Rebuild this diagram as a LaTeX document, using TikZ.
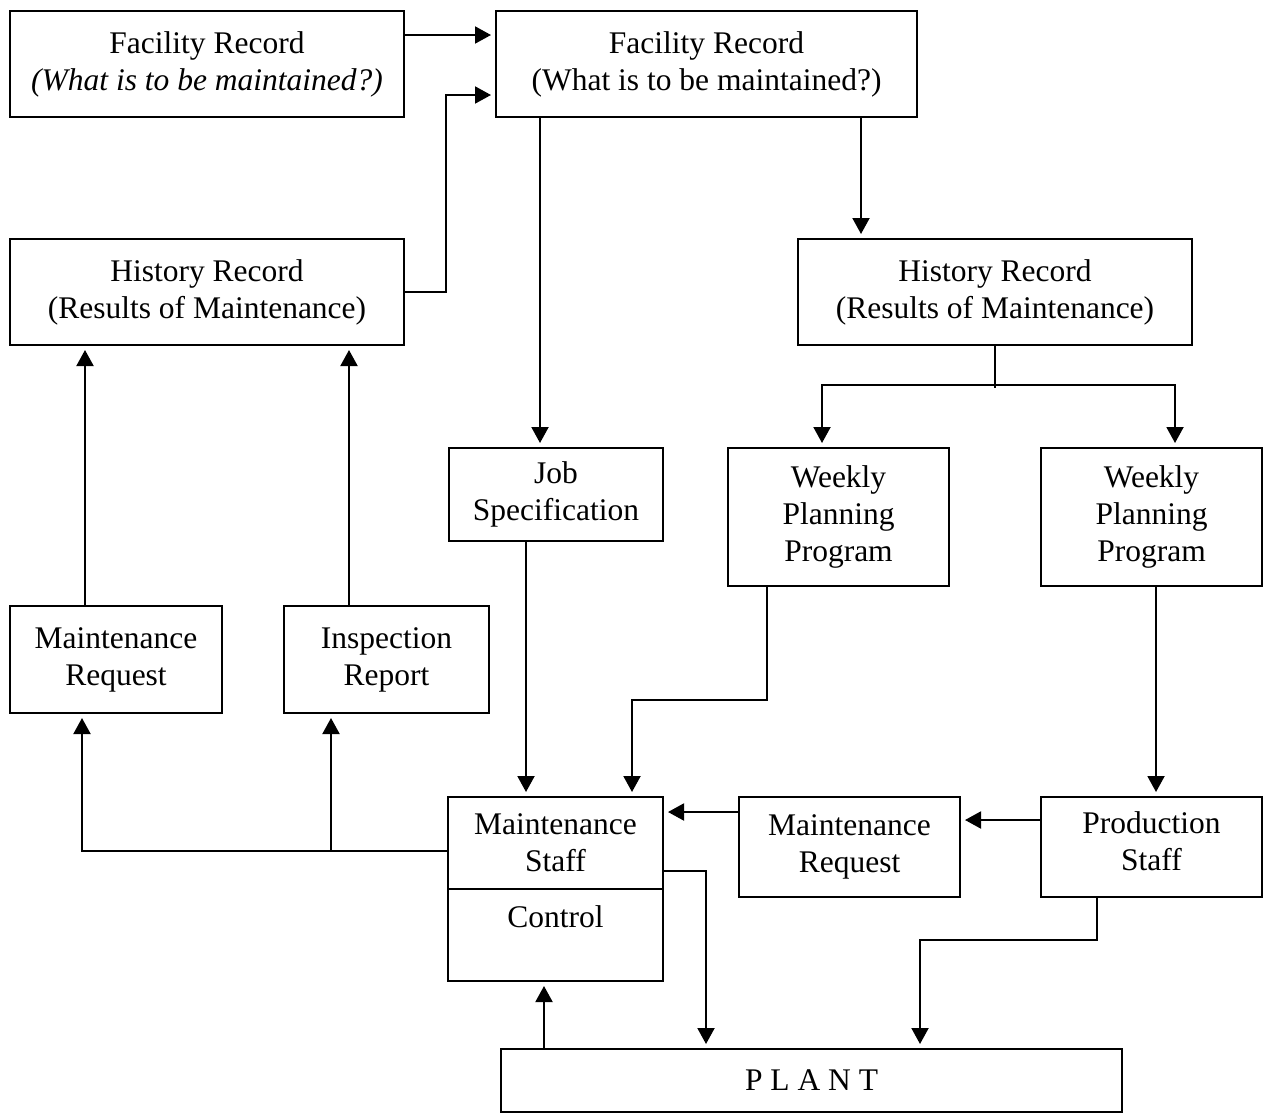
\documentclass[tikz,border=0pt]{standalone}
\usepackage{fontspec}
\setmainfont{Liberation Serif}
\usepackage{tikz}
\usetikzlibrary{arrows.meta, positioning}

\begin{document}
\begin{tikzpicture}[
    x=1pt, y=-1pt,
    box/.style={draw, line width=2pt, anchor=north west, align=center, inner sep=0pt, font=\fontsize{31.5}{37}\selectfont},
    arrow/.style={-{Triangle[length=16pt, width=17pt]}, line width=2pt, shorten >=4pt},
    link/.style={line width=2pt}
]
    \useasboundingbox (0,0) rectangle (1263,1117);

    % records
    \node[box, minimum width=394, minimum height=106] (fr1) at (9,10) {Facility Record\\\textit{(What is to be maintained?)}};
    \node[box, minimum width=421, minimum height=106] (fr2) at (495,10) {Facility Record\\(What is to be maintained?)};
    \node[box, minimum width=394, minimum height=106] (hr1) at (9,238) {History Record\\(Results of Maintenance)};
    \node[box, minimum width=394, minimum height=106] (hr2) at (797,238) {History Record\\(Results of Maintenance)};

    % planning
    \node[box, minimum width=214, minimum height=93] (job) at (448,447) {Job\\Specification};
    \node[box, minimum width=221, minimum height=138] (wpp1) at (727,447) {Weekly\\Planning\\Program};
    \node[box, minimum width=221, minimum height=138] (wpp2) at (1040,447) {Weekly\\Planning\\Program};

    % reports
    \node[box, minimum width=212, minimum height=107] (mr1) at (9,605) {Maintenance\\Request};
    \node[box, minimum width=205, minimum height=107] (ir) at (283,605) {Inspection\\Report};

    % staff
    \node[box, minimum width=215, minimum height=92] (ms) at (447,796) {Maintenance\\Staff};
    \node[box, minimum width=215, minimum height=92] (ctrl) at (447,888) {Control\\\mbox{}};
    \node[box, minimum width=221, minimum height=100] (mr2) at (738,796) {Maintenance\\Request};
    \node[box, minimum width=221, minimum height=100] (ps) at (1040,796) {Production\\Staff\strut};
    \node[box, minimum width=621, minimum height=63] (plant) at (500,1048) {P L A N T};

    % top connectors
    \draw[arrow] (fr1.east |- 0,35) -- (fr2.west |- 0,35);
    \draw[arrow] (hr1.east) -| (446,95) -- (fr2.west |- 0,95);
    \draw[arrow] (fr2.south -| 540,0) -- (job.north -| 540,0);
    \draw[arrow] (fr2.south -| 861,0) -- (hr2.north -| 861,0);
    \draw[link] (hr2.south) -- (hr2.south |- 0,388);
    \draw[arrow] (hr2.south |- 0,385) -| (wpp1.north -| 822,0);
    \draw[arrow] (hr2.south |- 0,385) -| (wpp2.north -| 1175,0);

    % left side
    \draw[arrow] (mr1.north -| 85,0) -- (hr1.south -| 85,0);
    \draw[arrow] (ir.north -| 349,0) -- (hr1.south -| 349,0);
    \draw[arrow] (ms.west |- 0,851) -| (mr1.south -| 82,0);
    \draw[arrow] (331,851) -- (ir.south -| 331,0);

    % into staff
    \draw[arrow] (job.south -| 526,0) -- (ms.north -| 526,0);
    \draw[arrow] (wpp1.south -| 767,0) |- (632,700) -- (ms.north -| 632,0);
    \draw[arrow] (wpp2.south -| 1156,0) -- (ps.north -| 1156,0);
    \draw[arrow] (ps.west |- 0,820) -- (mr2.east |- 0,820);
    \draw[arrow] (mr2.west |- 0,812) -- (ms.east |- 0,812);

    % plant
    \draw[arrow] (ms.east |- 0,871) -| (plant.north -| 706,0);
    \draw[arrow] (ps.south -| 1097,0) |- (920,940) -- (plant.north -| 920,0);
    \draw[arrow] (plant.north -| 544,0) -- (ctrl.south -| 544,0);
\end{tikzpicture}
\end{document}
